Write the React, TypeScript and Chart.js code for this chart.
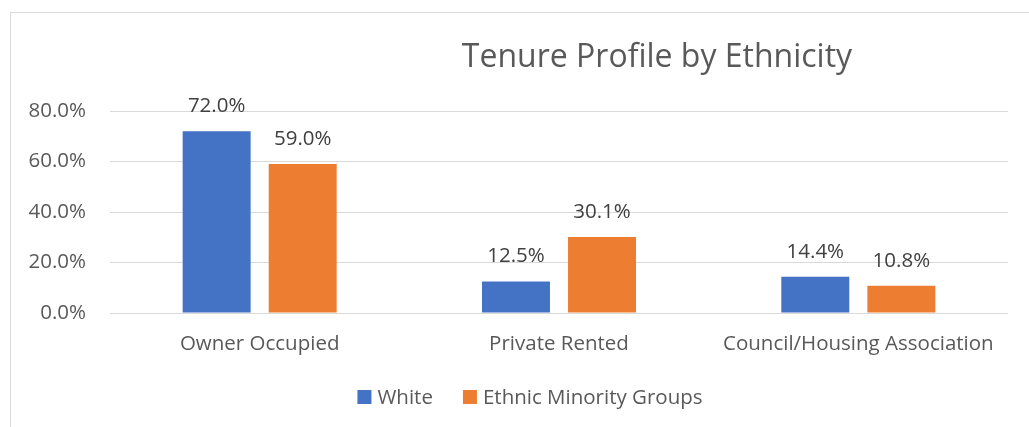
import React, { useEffect, useRef } from "react";
import { Chart, registerables } from "chart.js";

Chart.register(...registerables);

const categories = ["Owner Occupied", "Private Rented", "Council/Housing Association"];
const whiteValues = [72.0, 12.5, 14.4];
const minorityValues = [59.0, 30.1, 10.8];
const seriesNames = ["White", "Ethnic Minority Groups"];
const seriesColors = ["#4472C4", "#ED7D31"];
const yTicks = [0, 20, 40, 60, 80];
const chartTitle = "Tenure Profile by Ethnicity";

const FONT = "'Open Sans', 'DejaVu Sans', sans-serif";
const GREY = "#595959";

const framePlugin = {
  id: "frame",
  beforeDraw(chart: any) {
    const ctx = chart.ctx;
    ctx.save();
    ctx.fillStyle = "#ffffff";
    ctx.fillRect(0, 0, chart.width, chart.height);
    ctx.strokeStyle = "#d9d9d9";
    ctx.lineWidth = 1;
    ctx.strokeRect(10.5, 12.5, 3000, 3000);
    ctx.restore();
  },
};

const decorPlugin = {
  id: "decor",
  afterDraw(chart: any) {
    const ctx = chart.ctx;
    ctx.save();
    // title
    ctx.font = `32px ${FONT}`;
    ctx.fillStyle = GREY;
    ctx.textAlign = "center";
    ctx.textBaseline = "alphabetic";
    ctx.fillText(chartTitle, 657, 67);

    // data labels
    ctx.font = `20.5px ${FONT}`;
    ctx.fillStyle = "#404040";
    chart.data.datasets.forEach((ds: any, di: number) => {
      const meta = chart.getDatasetMeta(di);
      meta.data.forEach((bar: any, i: number) => {
        const v = ds.data[i];
        ctx.fillText(v.toFixed(1) + "%", bar.x, bar.y - 19);
      });
    });

    // legend
    ctx.font = `20.5px ${FONT}`;
    ctx.textAlign = "left";
    ctx.fillStyle = GREY;
    const box = 14;
    const gapBoxText = 6;
    const gapItems = 30;
    const widths = chart.data.datasets.map((ds: any) => ctx.measureText(ds.label).width);
    let total = 0;
    widths.forEach((w: number, i: number) => {
      total += box + gapBoxText + w + (i < widths.length - 1 ? gapItems : 0);
    });
    let x = 530 - total / 2;
    const baseY = 404;
    chart.data.datasets.forEach((ds: any, i: number) => {
      ctx.fillStyle = ds.backgroundColor;
      ctx.fillRect(x, 390, box, box);
      x += box + gapBoxText;
      ctx.fillStyle = GREY;
      ctx.fillText(ds.label, x, baseY);
      x += widths[i] + gapItems;
    });
    ctx.restore();
  },
};

export default function App() {
  const ref = useRef<HTMLCanvasElement>(null);

  useEffect(() => {
    if (!ref.current) return;
    const chart = new Chart(ref.current, {
      type: "bar",
      data: {
        labels: categories,
        datasets: [
          {
            label: seriesNames[0],
            data: whiteValues,
            backgroundColor: seriesColors[0],
            categoryPercentage: 0.575,
            barPercentage: 0.79,
          },
          {
            label: seriesNames[1],
            data: minorityValues,
            backgroundColor: seriesColors[1],
            categoryPercentage: 0.575,
            barPercentage: 0.79,
          },
        ],
      },
      options: {
        responsive: false,
        devicePixelRatio: 1,
        animation: false,
        layout: { padding: { top: 111, right: 21, bottom: 64, left: 0 } },
        plugins: {
          legend: { display: false },
          title: { display: false },
          tooltip: { enabled: false },
        },
        scales: {
          x: {
            grid: { display: false, drawTicks: false },
            border: { display: false },
            ticks: {
              font: { family: FONT, size: 20.5 },
              color: GREY,
              padding: 19,
              maxRotation: 0,
              autoSkip: false,
            },
            afterFit(scale: any) {
              scale.height = 50;
            },
          },
          y: {
            min: 0,
            max: 80,
            afterBuildTicks(scale: any) {
              scale.ticks = yTicks.map((v) => ({ value: v }));
            },
            grid: { color: "#d9d9d9", lineWidth: 1, drawTicks: false },
            border: { display: false },
            ticks: {
              font: { family: FONT, size: 20.5 },
              color: GREY,
              padding: 24,
              callback: (v: any) => Number(v).toFixed(1) + "%",
            },
            afterFit(scale: any) {
              scale.width = 110;
            },
          },
        },
      },
      plugins: [framePlugin, decorPlugin],
    });
    return () => chart.destroy();
  }, []);

  return (
    <div style={{ position: "fixed", left: 0, top: 0, width: 1029, height: 427, background: "#fff" }}>
      <canvas ref={ref} width={1029} height={427} />
    </div>
  );
}
